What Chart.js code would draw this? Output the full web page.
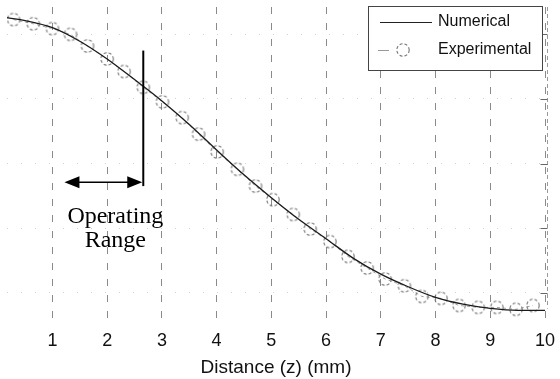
<!DOCTYPE html>
<html><head><meta charset="utf-8">
<script src="https://cdn.jsdelivr.net/npm/chart.js@4.4.1/dist/chart.umd.min.js"></script>
<style>html,body{margin:0;padding:0;background:#fff}</style>
</head><body>
<canvas id="c" width="560" height="379"></canvas>
<script>
// Numerical model: normalised field vs distance
const numZ = [0.17, 0.5, 1, 1.5, 2, 2.5, 3, 3.5, 4, 4.5, 5, 5.5, 6, 6.5, 7, 7.5, 8, 8.5, 9, 9.5, 10];
const numB = [0.952, 0.943, 0.921, 0.879, 0.824, 0.760, 0.694, 0.621, 0.542, 0.465, 0.394, 0.327, 0.267, 0.206, 0.157, 0.118, 0.085, 0.064, 0.051, 0.045, 0.045];

// Measured points
const expZ = [0.29, 0.65, 1.00, 1.33, 1.64, 2.00, 2.31, 2.66, 3.01, 3.37, 3.67, 4.01, 4.38, 4.71, 5.03, 5.40, 5.71, 6.07, 6.40, 6.75, 7.08, 7.43, 7.75, 8.10, 8.43, 8.78, 9.12, 9.47, 9.78];
const expB = [0.946, 0.933, 0.918, 0.900, 0.864, 0.824, 0.785, 0.736, 0.691, 0.642, 0.591, 0.536, 0.482, 0.430, 0.388, 0.342, 0.297, 0.258, 0.212, 0.176, 0.142, 0.121, 0.088, 0.082, 0.060, 0.054, 0.054, 0.048, 0.060];

const zTicks = [1, 2, 3, 4, 5, 6, 7, 8, 9, 10];
const bTicks = [0.1, 0.3, 0.5, 0.7, 0.9];

// Operating range marker
const rangeZ = [1.22, 2.66];
const markB = [0.850, 0.430];
const arrowB = 0.442;
const rangeText = ['Operating', 'Range'];
const rangeTextZ = 2.15;
const rangeTextB = [0.336, 0.261];

const seriesNames = ['Numerical', 'Experimental'];

// dashed hollow circle used as the marker of the measured series
function dashedCircle() {
  const c = document.createElement('canvas');
  c.width = 16; c.height = 16;
  const g = c.getContext('2d');
  g.strokeStyle = '#777';
  g.lineWidth = 1.1;
  g.setLineDash([3, 2]);
  g.beginPath(); g.arc(8, 8, 6.2, 0, Math.PI * 2); g.stroke();
  return c;
}
const circleMarker = dashedCircle();

const annotate = {
  id: 'annotate',
  afterDatasetsDraw(chart) {
    const { ctx, scales: { x, y } } = chart;
    const x0 = x.getPixelForValue(rangeZ[0]);
    const x1 = x.getPixelForValue(rangeZ[1]);
    const ya = y.getPixelForValue(arrowB);
    ctx.save();
    ctx.strokeStyle = '#000';
    ctx.fillStyle = '#000';
    ctx.lineWidth = 2;
    ctx.beginPath();
    ctx.moveTo(x1, y.getPixelForValue(markB[0]));
    ctx.lineTo(x1, y.getPixelForValue(markB[1]));
    ctx.stroke();
    ctx.lineWidth = 1.6;
    ctx.beginPath(); ctx.moveTo(x0 + 10, ya); ctx.lineTo(x1 - 10, ya); ctx.stroke();
    const head = (tx, dir) => {
      ctx.beginPath();
      ctx.moveTo(tx, ya);
      ctx.lineTo(tx + dir * 15, ya - 6);
      ctx.lineTo(tx + dir * 15, ya + 6);
      ctx.closePath(); ctx.fill();
    };
    head(x0, 1); head(x1 - 1, -1);
    ctx.font = '24px "Liberation Serif", "Times New Roman", serif';
    ctx.textAlign = 'center';
    ctx.textBaseline = 'middle';
    const tx = x.getPixelForValue(rangeTextZ);
    rangeText.forEach((t, i) => ctx.fillText(t, tx, y.getPixelForValue(rangeTextB[i])));
    ctx.restore();
  }
};

// right-hand frame with inward ticks
const rightTicks = {
  id: 'rightTicks',
  afterDraw(chart) {
    const { ctx, chartArea, scales: { y } } = chart;
    const rx = Math.round(chartArea.right) + 2.5;
    ctx.save();
    ctx.strokeStyle = '#9a9a9a';
    ctx.lineWidth = 1;
    ctx.setLineDash([4, 3]);
    ctx.beginPath(); ctx.moveTo(rx, chartArea.top); ctx.lineTo(rx, y.getPixelForValue(0.05)); ctx.stroke();
    ctx.setLineDash([]);
    ctx.strokeStyle = '#666';
    bTicks.forEach(v => {
      const py = Math.round(y.getPixelForValue(v)) + 0.5;
      ctx.beginPath(); ctx.moveTo(rx - 7, py); ctx.lineTo(rx, py); ctx.stroke();
    });
    ctx.restore();
  }
};

const legendBox = {
  id: 'legendBox',
  afterDraw(chart) {
    const { ctx } = chart;
    const bx = 368, by = 6, bw = 174, bh = 64;
    ctx.save();
    ctx.fillStyle = '#fff';
    ctx.fillRect(bx, by, bw, bh);
    ctx.strokeStyle = '#444';
    ctx.lineWidth = 1;
    ctx.strokeRect(bx + 0.5, by + 0.5, bw, bh);
    // Numerical entry
    ctx.strokeStyle = '#222';
    ctx.lineWidth = 1.2;
    ctx.beginPath(); ctx.moveTo(380, 22.5); ctx.lineTo(432, 22.5); ctx.stroke();
    // Experimental entry
    ctx.strokeStyle = '#999';
    ctx.lineWidth = 1;
    ctx.beginPath(); ctx.moveTo(378, 50.5); ctx.lineTo(389, 50.5); ctx.stroke();
    ctx.drawImage(circleMarker, 395, 42);
    ctx.fillStyle = '#111';
    ctx.font = '16px "Liberation Sans", Arial, sans-serif';
    ctx.textBaseline = 'middle';
    ctx.textAlign = 'left';
    ctx.fillText(seriesNames[0], 438, 22);
    ctx.fillText(seriesNames[1], 438, 50);
    ctx.restore();
  }
};

new Chart(document.getElementById('c'), {
  type: 'line',
  data: {
    datasets: [
      {
        label: seriesNames[0],
        data: numZ.map((z, i) => ({ x: z, y: numB[i] })),
        borderColor: '#1a1a1a',
        borderWidth: 1.3,
        pointRadius: 0,
        cubicInterpolationMode: 'monotone',
        fill: false
      },
      {
        label: seriesNames[1],
        data: expZ.map((z, i) => ({ x: z, y: expB[i] })),
        borderColor: '#a0a0a0',
        borderWidth: 1,
        borderDash: [3, 3],
        pointStyle: circleMarker,
        pointRadius: 6,
        tension: 0,
        fill: false
      }
    ]
  },
  options: {
    responsive: false,
    animation: false,
    devicePixelRatio: 1,
    layout: { padding: 0 },
    plugins: { legend: { display: false }, tooltip: { enabled: false } },
    scales: {
      x: {
        type: 'linear',
        min: 0.17,
        max: 10,
        afterBuildTicks: s => { s.ticks = zTicks.map(v => ({ value: v })); },
        afterFit: s => { s.height = 59; s.paddingLeft = 0; s.paddingRight = 0; },
        border: { display: false, dash: [7, 9] },
        grid: { color: '#8a8a8a', lineWidth: 1, drawTicks: false },
        ticks: { color: '#111', font: { family: '"Liberation Sans", Arial, sans-serif', size: 18 }, padding: 10, maxRotation: 0 },
        title: { display: true, text: 'Distance (z) (mm)', color: '#111', font: { family: '"Liberation Sans", Arial, sans-serif', size: 19 }, padding: 0 }
      },
      y: {
        type: 'linear',
        position: 'right',
        min: 0.015,
        max: 0.985,
        afterBuildTicks: s => { s.ticks = bTicks.map(v => ({ value: v })); },
        afterFit: s => { s.width = 15; },
        ticks: { display: false },
        border: { display: false, dash: [1, 13] },
        grid: { color: 'rgba(0,0,0,0.18)', drawTicks: false }
      }
    }
  },
  plugins: [annotate, rightTicks, legendBox]
});
</script>
</body></html>
